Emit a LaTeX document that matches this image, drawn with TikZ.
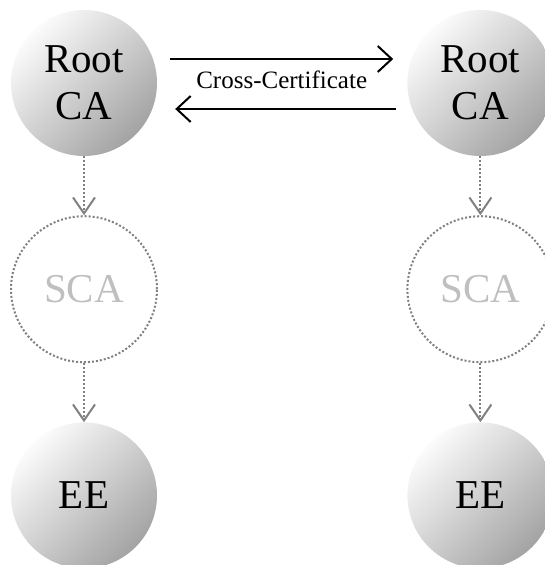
\documentclass[tikz,border=0pt]{standalone}
\usepackage{fontspec}
\setmainfont{Liberation Serif}
\usetikzlibrary{arrows.meta,calc,positioning}
\tikzset{
  ca/.style={circle,minimum size=146pt,inner sep=0pt,align=center,
    shading=axis,top color=gray!3,bottom color=gray!72,shading angle=45,
    font=\fontsize{41}{47}\selectfont},
  ghost/.style={circle,minimum size=146pt,inner sep=0pt,draw=gray,
    dash pattern=on 2pt off 2pt,line width=2pt,text=gray!50,
    font=\fontsize{41}{47}\selectfont},
  chain/.style={draw=gray,dash pattern=on 2pt off 2pt,line width=2pt,
    -{Straight Barb[length=16pt,width=22pt,line width=2pt]}},
  cross/.style={line width=2pt,
    -{Straight Barb[length=14pt,width=26pt,line width=2pt]}}
}
\begin{document}
\begin{tikzpicture}[x=1pt,y=1pt,node distance=59pt and 250pt]
	\useasboundingbox (-84,83) rectangle (461,-482);

	\node[ca] (rootl) at (0,0) {Root\\CA};
	\node[ca] [right=of rootl] (rootr) {Root\\CA};
	\node[ghost] [below=of rootl] (scal) {SCA};
	\node[ghost] [below=of rootr] (scar) {SCA};
	\node[ca] [below=of scal] (eel) {EE};
	\node[ca] [below=of scar] (eer) {EE};

	% cross certificate, both ways
	\draw[cross] ($(rootl.east)+(13,24)$) -- ($(rootr.west)+(-14,24)$)
	  node[midway,below=8pt,font=\fontsize{25}{27}\selectfont] {Cross-Certificate};
	\draw[cross] ($(rootr.west)+(-11,-26)$) -- ($(rootl.east)+(18,-26)$);

	% chains down
	\path[chain]
	(rootl) edge (scal)
	(scal) edge (eel)
	(rootr) edge (scar)
	(scar) edge (eer)
	;
\end{tikzpicture}
\end{document}
